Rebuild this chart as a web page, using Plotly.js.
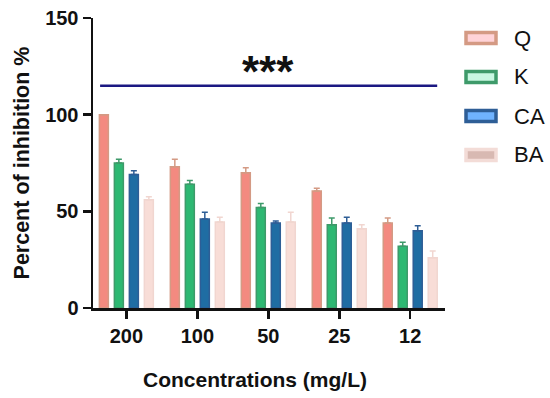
<!DOCTYPE html>
<html>
<head>
<meta charset="utf-8">
<script src="https://cdn.plot.ly/plotly-3.0.1.min.js"></script>
<style>html,body{margin:0;padding:0;background:#fff;}#chart{width:550px;height:398px;}</style>
</head>
<body>
<div id="chart"></div>
<script>
var categories = ["200", "100", "50", "25", "12"];
var seriesNames = ["Q", "K", "CA", "BA"];
var qValues = [100, 73, 70, 60.5, 44];
var qErrors = [0, 4, 2.5, 1.5, 2.5];
var kValues = [75, 64, 52, 43, 32];
var kErrors = [2, 2, 2, 3.5, 2];
var caValues = [69, 46, 44, 44, 40];
var caErrors = [2, 3.5, 1, 3, 2.5];
var baValues = [56, 44.5, 44.5, 41, 26];
var baErrors = [1.5, 2.5, 5, 2, 3.5];
var sigLevel = [115];
var sigLabel = ["***"];

var values = [qValues, kValues, caValues, baValues];
var errors = [qErrors, kErrors, caErrors, baErrors];
var fills = ["#F38A80", "#2DB872", "#1F6DA3", "#F8DDD7"];
var outlines = ["#D49A84", "#3E9A6A", "#2E5E96", "#F1D6D0"];
var legendInner = ["#FFD3D8", "#C9F7E2", "#6FB3FF", "#D8B9B2"];
var FONT = "Arial, Liberation Sans, sans-serif";

var traces = seriesNames.map(function (name, i) {
  return {
    type: "bar",
    name: name,
    x: categories,
    y: values[i],
    marker: {color: fills[i], line: {color: outlines[i], width: 1.5}},
    error_y: {type: "data", array: errors[i], symmetric: false, arrayminus: errors[i].map(function(){return 0;}), color: outlines[i], thickness: 1.5, width: 3},
    showlegend: false,
    hoverinfo: "x+y+name"
  };
});

var shapes = [{
  type: "line", xref: "x", yref: "y",
  x0: -0.37, x1: 4.38, y0: sigLevel[0], y1: sigLevel[0],
  line: {color: "#1B1882", width: 2.5}
}];
var annotations = [{
  x: 2, y: sigLevel[0], xref: "x", yref: "y", text: "<b>" + sigLabel[0] + "</b>",
  showarrow: false, yanchor: "bottom", yshift: -12, font: {family: FONT, size: 44, color: "#111"}
}, {
  x: (255 - 93) / 352, y: -0.248, xref: "paper", yref: "paper", yanchor: "middle",
  text: "<b>Concentrations (mg/L)</b>", showarrow: false,
  font: {family: FONT, size: 21, color: "#111"}
}];

// legend drawn from series names and colours
seriesNames.forEach(function (name, i) {
  var cy = 38 + i * 39;
  var x0 = 466, x1 = 496;
  shapes.push({type: "rect", xref: "paper", yref: "paper",
    x0: (x0 - 93) / 352, x1: (x1 - 93) / 352,
    y0: (308 - (cy + 5.5)) / 290, y1: (308 - (cy - 5.5)) / 290,
    fillcolor: legendInner[i], line: {color: (i === 3 ? "#F3DCD7" : outlines[i]), width: 3.5}});
  annotations.push({x: (512 - 93) / 352, y: (308 - cy) / 290, xref: "paper", yref: "paper",
    text: name, showarrow: false, xanchor: "left", yanchor: "middle",
    font: {family: FONT, size: 22, color: "#111"}});
});

var layout = {
  width: 550, height: 398,
  margin: {l: 93, r: 105, t: 18, b: 90},
  paper_bgcolor: "#fff", plot_bgcolor: "#fff",
  barmode: "group", bargap: 0.155, bargroupgap: 0.4,
  font: {family: FONT, color: "#111"},
  xaxis: {
    type: "category", range: [-0.47, 4.49],
    showline: true, linecolor: "#111", linewidth: 2.5,
    ticks: "outside", ticklen: 8, tickwidth: 2.5, tickcolor: "#111",
    tickfont: {size: 20, weight: "bold"},
    showgrid: false, zeroline: false
  },
  yaxis: {
    range: [0, 150], tickvals: [0, 50, 100, 150],
    showline: true, linecolor: "#111", linewidth: 2.5,
    ticks: "outside", ticklen: 8, tickwidth: 2.5, tickcolor: "#111",
    tickfont: {size: 20, weight: "bold"},
    showgrid: false, zeroline: false,
    title: {text: "<b>Percent of inhibition %</b>", font: {size: 21.5}, standoff: 10}
  },
  shapes: shapes,
  annotations: annotations
};

Plotly.newPlot("chart", traces, layout, {displayModeBar: false, staticPlot: true});
</script>
</body>
</html>
